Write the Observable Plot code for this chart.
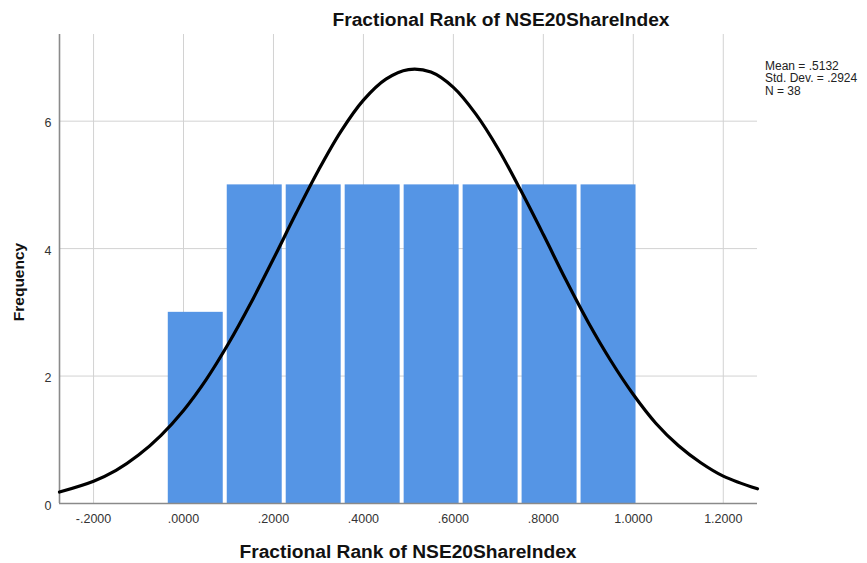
<!DOCTYPE html>
<html>
<head>
<meta charset="utf-8">
<script src="https://cdn.jsdelivr.net/npm/d3@7"></script>
<script src="https://cdn.jsdelivr.net/npm/@observablehq/plot@0.6"></script>
<style>
  html, body { margin: 0; padding: 0; background: #fff; }
  #chart { width: 867px; height: 563px; }
</style>
</head>
<body>
<div id="chart"></div>
<script>
// ---- data ----
const binEdges = [-0.0383, 0.0928, 0.2239, 0.3550, 0.4861, 0.6172, 0.7483, 0.8794, 1.0105];
const counts = [3, 5, 5, 5, 5, 5, 5, 5];

const curveX = [-0.2757, -0.2, -0.15, -0.1, -0.05, 0.0, 0.05, 0.1, 0.15, 0.2, 0.25, 0.3, 0.35, 0.4, 0.45, 0.5, 0.55, 0.6, 0.65, 0.7, 0.75, 0.8, 0.85, 0.9, 0.95, 1.0, 1.05, 1.1, 1.15, 1.2, 1.2761];
const curveY = [0.18, 0.35, 0.52, 0.76, 1.07, 1.46, 1.94, 2.51, 3.15, 3.84, 4.55, 5.23, 5.84, 6.33, 6.66, 6.81, 6.77, 6.53, 6.11, 5.56, 4.91, 4.22, 3.51, 2.84, 2.24, 1.71, 1.26, 0.91, 0.64, 0.43, 0.23];

const xTicks = [-0.2, 0, 0.2, 0.4, 0.6, 0.8, 1.0, 1.2];
const xTickLabels = ["-.2000", ".0000", ".2000", ".4000", ".6000", ".8000", "1.0000", "1.2000"];
const yTicks = [0, 2, 4, 6];
const yGrid = [2, 4, 6];

const titleText = "Fractional Rank of NSE20ShareIndex";
const xLabel = "Fractional Rank of NSE20ShareIndex";
const yLabel = "Frequency";
const statsLines = ["Mean = .5132", "Std. Dev. = .2924", "N = 38"];

// ---- build tables ----
const bins = counts.map((c, i) => ({x1: binEdges[i], x2: binEdges[i + 1], count: c}));
const curve = curveX.map((x, i) => ({x, y: curveY[i]}));
const xDomain = [-0.2757, 1.2761];
const yDomain = [0, 7.36];

const font = "'Liberation Sans', Arial, Helvetica, sans-serif";

const svg = Plot.plot({
  width: 867,
  height: 563,
  marginLeft: 59,
  marginRight: 110,
  marginTop: 34,
  marginBottom: 60,
  style: {fontFamily: font, background: "#fff", color: "#222"},
  x: {domain: xDomain},
  y: {domain: yDomain},
  marks: [
    Plot.gridX(xTicks, {stroke: "#d2d2d2", strokeOpacity: 1, strokeWidth: 1}),
    Plot.gridY(yGrid, {stroke: "#d2d2d2", strokeOpacity: 1, strokeWidth: 1}),
    Plot.rectY(bins, {x1: "x1", x2: "x2", y: "count", fill: "#5595e5", insetLeft: 2, insetRight: 2}),
    Plot.ruleX([xDomain[0]], {stroke: "#8a8a8a", strokeWidth: 1.6}),
    Plot.ruleY([0], {stroke: "#8a8a8a", strokeWidth: 1.6}),
    Plot.line(curve, {x: "x", y: "y", stroke: "#000", strokeWidth: 3.2, curve: "catmull-rom"}),
    Plot.axisX(xTicks, {
      tickSize: 0, tickPadding: 11, fontSize: 12.5, fill: "#333",
      tickFormat: d => xTickLabels[xTicks.indexOf(d)], label: null
    }),
    Plot.axisY(yTicks, {
      tickSize: 0, tickPadding: 8, fontSize: 12.5, fill: "#333", dy: 2,
      tickFormat: d => String(d), label: null
    })
  ]
});

document.getElementById("chart").appendChild(svg);

const s = d3.select(svg);
s.append("text")
  .attr("x", 501).attr("y", 25.5)
  .attr("text-anchor", "middle")
  .attr("font-family", font).attr("font-weight", "bold").attr("font-size", 19.2)
  .attr("fill", "#111")
  .text(titleText);

s.append("text")
  .attr("x", 408).attr("y", 557.5)
  .attr("text-anchor", "middle")
  .attr("font-family", font).attr("font-weight", "bold").attr("font-size", 19.2)
  .attr("fill", "#111")
  .text(xLabel);

s.append("text")
  .attr("transform", "translate(24,282) rotate(-90)")
  .attr("text-anchor", "middle")
  .attr("font-family", font).attr("font-weight", "bold").attr("font-size", 15.5)
  .attr("fill", "#111")
  .text(yLabel);

const st = s.append("text")
  .attr("text-anchor", "start")
  .attr("font-family", font).attr("font-size", 12).attr("fill", "#222");
statsLines.forEach((t, i) => {
  st.append("tspan").attr("x", 765).attr("y", 70 + i * 12.4).attr("text-anchor", "start").text(t);
});
</script>
</body>
</html>
